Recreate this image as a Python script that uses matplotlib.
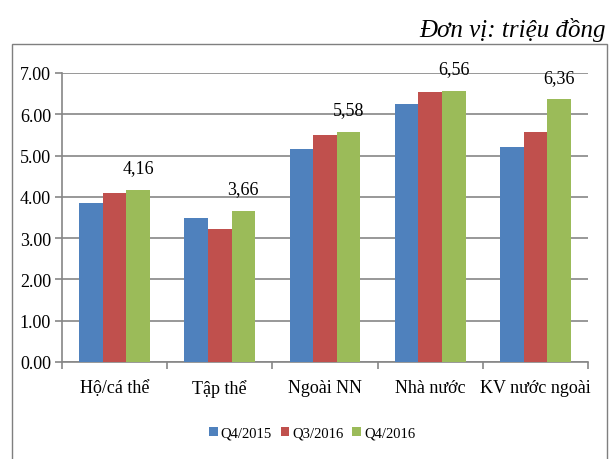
import matplotlib
matplotlib.use("Agg")
import matplotlib.pyplot as plt
import numpy as np
from matplotlib.patches import Rectangle

categories = ["Hộ/cá thể", "Tập thể", "Ngoài NN", "Nhà nước", "KV nước ngoài"]
series_names = ["Q4/2015", "Q3/2016", "Q4/2016"]
q4_2015 = [3.86, 3.50, 5.16, 6.24, 5.20]
q3_2016 = [4.10, 3.21, 5.51, 6.53, 5.56]
q4_2016 = [4.16, 3.66, 5.58, 6.56, 6.36]
labels_q4_2016 = ["4,16", "3,66", "5,58", "6,56", "6,36"]
colors = ["#4F81BD", "#C0504D", "#9BBB59"]
yticks = [0, 1, 2, 3, 4, 5, 6, 7]

plt.rcParams['font.family'] = ['Liberation Serif', 'DejaVu Serif']

fig = plt.figure(figsize=(6.11, 4.60), dpi=100)
W, H = 611, 460
ax = fig.add_axes([62 / W, 1 - 363 / H, (588 - 62) / W, (363 - 74) / H])

# outer frame
fig.patches.append(Rectangle((12 / W, -0.05), (607 - 12) / W, 1 - 45 / H + 0.05,
                             transform=fig.transFigure, fill=False,
                             edgecolor="#7f7f7f", linewidth=1.0))

x = np.arange(len(categories))
bw = 0.224
data = [q4_2015, q3_2016, q4_2016]
for i, (vals, c, name) in enumerate(zip(data, colors, series_names)):
    ax.bar(x + (i - 1) * bw, vals, width=bw, color=c, label=name, zorder=3)

for xi, v, lab in zip(x, q4_2016, labels_q4_2016):
    ax.text(xi + bw, v + 0.54, lab, ha="center", va="center", fontsize=13,
            zorder=4, clip_on=False)

ax.set_xlim(-0.5, len(categories) - 0.5)
ax.set_ylim(0, 7)
ax.set_yticks(yticks)
ax.set_yticklabels([f"{t:.2f}" for t in yticks], fontsize=13)
ax.yaxis.grid(True, color="#868686", linewidth=1.2, zorder=0)
ax.set_axisbelow(True)

ax.set_xticks(x)
ax.set_xticklabels(categories, fontsize=13)
ax.set_xticks(np.arange(-0.5, len(categories), 1), minor=True)
ax.tick_params(axis="x", which="major", length=0, pad=12)
ax.tick_params(axis="x", which="minor", length=5, color="#868686", width=1.2)
ax.tick_params(axis="y", length=5, color="#868686", width=1.2, pad=3)

for s in ["top", "right"]:
    ax.spines[s].set_visible(False)
for s in ["left", "bottom"]:
    ax.spines[s].set_color("#868686")
    ax.spines[s].set_linewidth(1.2)

leg = fig.legend(loc="center", bbox_to_anchor=(312 / W, 1 - 434 / H), ncol=3,
                 frameon=False, fontsize=10.5, handlelength=0.6, handleheight=0.6,
                 handletextpad=0.2, columnspacing=0.6)

fig.text(606 / W, 1 - 30 / H, "Đơn vị: triệu đồng", ha="right", va="center",
         fontsize=18, style="italic")

fig.savefig("out.png", dpi=100)
